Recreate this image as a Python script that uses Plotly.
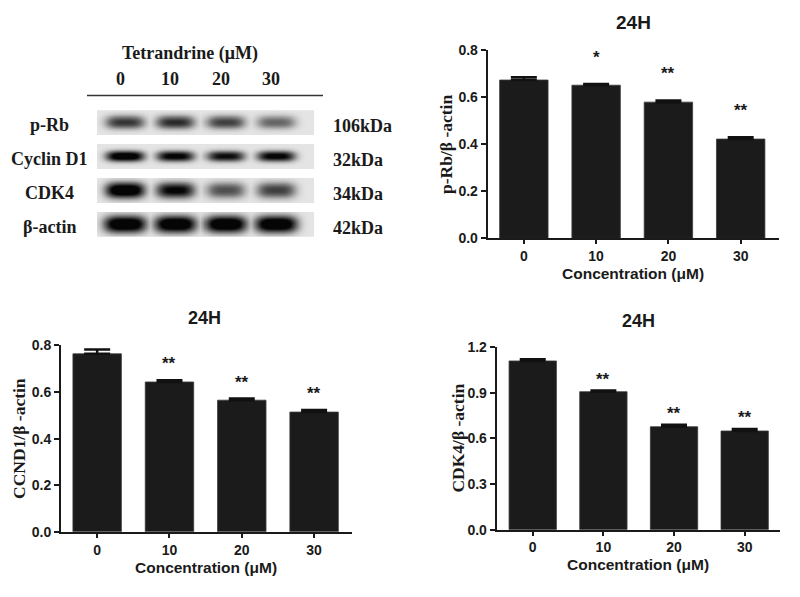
import numpy as np
import plotly.graph_objects as go

# ---------------- data ----------------
concentrations = ["0", "10", "20", "30"]

prb_mean = [0.673, 0.651, 0.579, 0.422]
prb_sem = [0.012, 0.005, 0.007, 0.008]
prb_sig = ["", "*", "**", "**"]

ccnd1_mean = [0.764, 0.643, 0.565, 0.514]
ccnd1_sem = [0.018, 0.007, 0.007, 0.009]
ccnd1_sig = ["", "**", "**", "**"]

cdk4_mean = [1.108, 0.906, 0.676, 0.648]
cdk4_sem = [0.011, 0.008, 0.013, 0.013]
cdk4_sig = ["", "**", "**", "**"]

blot_rows = ["p-Rb", "Cyclin D1", "CDK4", "β-actin"]
blot_kda = ["106kDa", "32kDa", "34kDa", "42kDa"]
band_prb = [0.60, 0.64, 0.56, 0.42]
band_ccnd1 = [0.95, 0.82, 0.76, 0.82]
band_cdk4 = [1.00, 0.80, 0.50, 0.56]
band_actin = [1.00, 1.00, 1.00, 1.00]

# ---------------- helpers ----------------
W, H = 800, 597
def px(x):
    return x / W
def py(y):
    return 1 - y / H

SANS = "Liberation Sans, Arial, sans-serif"
SERIF = "Liberation Serif, Times New Roman, serif"
BAR = "#1b1b1b"
AX = "#1a1a1a"

fig = go.Figure()

charts = [
    dict(mean=prb_mean, sem=prb_sem, sig=prb_sig, xa="x", ya="y",
         ytitle="p-Rb/β -actin", xdom=[487.7, 779], ydom=[236.7, 43.3],
         xr=[-0.5, 3.53], yr=[0, 0.8], dt=0.2, tf=".1f",
         title_xy=(633, 15), xt_y=273.3, yt_x=446.7, tsize=19, sshift=15),
    dict(mean=ccnd1_mean, sem=ccnd1_sem, sig=ccnd1_sig, xa="x2", ya="y2",
         ytitle="CCND1/β -actin", xdom=[61, 351.7], ydom=[538.3, 346.7],
         xr=[-0.5, 3.52], yr=[0, 0.8], dt=0.2, tf=".1f",
         title_xy=(205, 318.3), xt_y=575, yt_x=18.3, tsize=18, sshift=5),
    dict(mean=cdk4_mean, sem=cdk4_sem, sig=cdk4_sig, xa="x3", ya="y3",
         ytitle="CDK4/β -actin", xdom=[496.7, 780], ydom=[536, 348.3],
         xr=[-0.51, 3.5], yr=[0, 1.2], dt=0.3, tf=".1f",
         title_xy=(638, 321.7), xt_y=571.7, yt_x=458.3, tsize=18, sshift=0),
]

annotations = []
layout_axes = {}
xs = list(range(len(concentrations)))
tickfont = dict(family=SANS, size=14, color="#1a1a1a", weight="bold")

for c in charts:
    fig.add_trace(go.Bar(
        x=xs, y=c["mean"], width=0.67,
        marker=dict(color=BAR, line=dict(color="#3a3a3a", width=0.8)),
        error_y=dict(type="data", symmetric=False, array=c["sem"],
                     arrayminus=[0] * len(c["sem"]),
                     color="#111111", thickness=2.5, width=13),
        xaxis=c["xa"], yaxis=c["ya"], showlegend=False, hoverinfo="skip",
    ))
    xkey = "xaxis" + c["xa"][1:]
    ykey = "yaxis" + c["ya"][1:]
    layout_axes[xkey] = dict(
        domain=[px(c["xdom"][0]), px(c["xdom"][1])], range=c["xr"],
        anchor=c["ya"], tickmode="array", tickvals=xs, ticktext=concentrations,
        showline=True, linewidth=2, linecolor=AX, ticks="outside", ticklen=4,
        tickwidth=2, tickcolor=AX, showgrid=False, zeroline=False,
        tickfont=tickfont,
    )
    layout_axes[ykey] = dict(
        domain=[py(c["ydom"][0]), py(c["ydom"][1])], range=c["yr"],
        anchor=c["xa"], dtick=c["dt"], tick0=0, tickformat=c["tf"],
        showline=True, linewidth=2, linecolor=AX, ticks="outside", ticklen=5,
        tickwidth=2, tickcolor=AX, showgrid=False, zeroline=False,
        tickfont=tickfont,
    )
    for i, s in enumerate(c["sig"]):
        if s:
            annotations.append(dict(
                x=i, y=c["mean"][i] + c["sem"][i], xref=c["xa"], yref=c["ya"],
                text="<b>" + s + "</b>", showarrow=False, yanchor="bottom",
                yshift=c["sshift"],
                font=dict(family=SANS, size=17, color="#1a1a1a")))
    tx, ty = c["title_xy"]
    annotations.append(dict(
        x=px(tx), y=py(ty), xref="paper", yref="paper", text="<b>24H</b>",
        showarrow=False, xanchor="center", yanchor="middle",
        font=dict(family=SANS, size=c["tsize"], color="#1a1a1a")))
    xmid = (c["xdom"][0] + c["xdom"][1]) / 2
    annotations.append(dict(
        x=px(xmid), y=py(c["xt_y"]), xref="paper", yref="paper",
        text="<b>Concentration (μM)</b>", showarrow=False,
        xanchor="center", yanchor="middle",
        font=dict(family=SANS, size=15.5, color="#1a1a1a")))
    ymid = (c["ydom"][0] + c["ydom"][1]) / 2
    annotations.append(dict(
        x=px(c["yt_x"]), y=py(ymid), xref="paper", yref="paper",
        text="<b>" + c["ytitle"] + "</b>", showarrow=False, textangle=-90,
        xanchor="center", yanchor="middle",
        font=dict(family=SERIF, size=17.5, color="#1a1a1a")))

# ---------------- western blot (heatmap) ----------------
bands = [band_prb, band_ccnd1, band_cdk4, band_actin]
band_halfw = [0.38, 0.37, 0.38, 0.41]          # lanes
band_halfh = [6.5, 5.2, 7.8, 8.5]              # px
row_px = 34.8
strip_half = 12.75 / row_px
bg = 0.10

gx = np.arange(-0.56, 3.765, 0.01)
gy = np.arange(-0.36, 3.375, 0.01)
X, Y = np.meshgrid(gx, gy)
Z = np.full(X.shape, np.nan)
for r, inten in enumerate(bands):
    dy = Y - r
    inside = np.abs(dy) <= strip_half
    zr = np.zeros(X.shape)
    hy = band_halfh[r] / row_px
    for lane, I in enumerate(inten):
        dx = X - lane
        shape = np.exp(-(np.abs(dx) / band_halfw[r]) ** 3.5) * np.exp(-(np.abs(dy) / hy) ** 2.2)
        zr = np.maximum(zr, 1.3 * I * shape)
    zr = bg + (1 - bg) * np.clip(zr, 0, 1)
    Z = np.where(inside, zr, Z)

fig.add_trace(go.Heatmap(
    x=gx, y=gy, z=Z, zmin=0, zmax=1,
    colorscale=[[0, "#ffffff"], [0.5, "#7a7a7a"], [1, "#050505"]],
    showscale=False, hoverinfo="skip", xaxis="x4", yaxis="y4", zsmooth=False,
))
layout_axes["xaxis4"] = dict(domain=[px(97), px(314)], range=[-0.56, 3.76],
                             anchor="y4", visible=False)
layout_axes["yaxis4"] = dict(domain=[py(235), py(105)], range=[3.37, -0.36],
                             anchor="x4", visible=False)

annotations.append(dict(
    x=px(190), y=py(46.7), xref="paper", yref="paper",
    text="<b>Tetrandrine (μM)</b>", showarrow=False,
    xanchor="center", yanchor="middle",
    font=dict(family=SERIF, size=18, color="#1a1a1a")))
for i, lab in enumerate(concentrations):
    annotations.append(dict(
        x=i, y=py(73), xref="x4", yref="paper", xshift=-5,
        text="<b>" + lab + "</b>", showarrow=False,
        xanchor="center", yanchor="middle",
        font=dict(family=SERIF, size=18, color="#1a1a1a")))
for r, lab in enumerate(blot_rows):
    annotations.append(dict(
        x=px(49), y=r, xref="paper", yref="y4", yshift=-3,
        text="<b>" + lab + "</b>", showarrow=False,
        xanchor="center", yanchor="middle",
        font=dict(family=SERIF, size=18, color="#1a1a1a")))
for r, lab in enumerate(blot_kda):
    annotations.append(dict(
        x=px(331), y=r, xref="paper", yref="y4", yshift=-4,
        text="<b>" + lab + "</b>", showarrow=False,
        xanchor="left", yanchor="middle",
        font=dict(family=SERIF, size=18, color="#1a1a1a")))

shapes = [dict(type="line", xref="paper", yref="paper",
               x0=px(87), x1=px(323), y0=py(90), y1=py(90),
               line=dict(color="#333333", width=1.5))]

fig.update_layout(
    width=W, height=H, margin=dict(l=0, r=0, t=0, b=0),
    paper_bgcolor="white", plot_bgcolor="rgba(0,0,0,0)",
    annotations=annotations, shapes=shapes, showlegend=False,
    **layout_axes,
)

fig.write_html("out.html", config={"displayModeBar": False},
               post_script="document.body.style.margin='0';document.body.style.overflow='hidden';")
